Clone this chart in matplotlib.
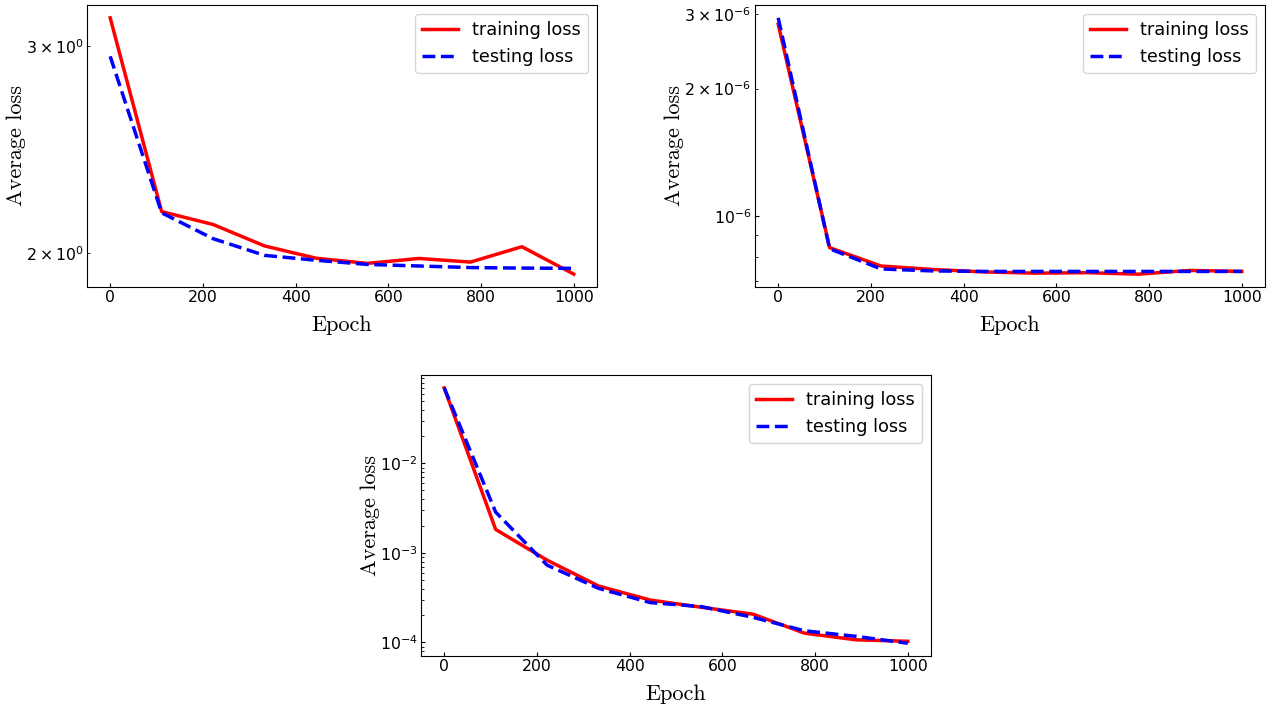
import numpy as np
import matplotlib
matplotlib.use("Agg")
import matplotlib.pyplot as plt

# epochs at which the losses were logged
epochs = [0, 111, 222, 333, 444, 555, 666, 777, 888, 1000]

# run 1
train_a = [3.17, 2.17, 2.116, 2.029, 1.981, 1.961, 1.980, 1.966, 2.026, 1.920]
test_a = [2.94, 2.165, 2.058, 1.992, 1.973, 1.957, 1.951, 1.945, 1.943, 1.942]

# run 2
train_b = [2.84e-6, 8.4e-7, 7.6e-7, 7.46e-7, 7.36e-7, 7.31e-7, 7.33e-7, 7.27e-7, 7.42e-7, 7.38e-7]
test_b = [2.94e-6, 8.35e-7, 7.48e-7, 7.4e-7, 7.38e-7, 7.38e-7, 7.38e-7, 7.38e-7, 7.38e-7, 7.38e-7]

# run 3
train_c = [0.0698, 1.83e-3, 8.3e-4, 4.27e-4, 2.98e-4, 2.47e-4, 2.07e-4, 1.27e-4, 1.07e-4, 1.03e-4]
test_c = [0.0700, 2.86e-3, 7.3e-4, 4.02e-4, 2.79e-4, 2.51e-4, 1.91e-4, 1.35e-4, 1.17e-4, 9.8e-5]

W, H = 1275, 709
fig = plt.figure(figsize=(W / 100, H / 100), dpi=100)


def box(x0, y0, x1, y1):
    # pixel box (top-left origin) -> figure fraction
    return [x0 / W, 1 - y1 / H, (x1 - x0) / W, (y1 - y0) / H]


axes = [
    fig.add_axes(box(87, 5, 597, 287)),
    fig.add_axes(box(755, 5, 1265, 287)),
    fig.add_axes(box(421, 375, 931, 656)),
]
runs = [(train_a, test_a), (train_b, test_b), (train_c, test_c)]

for ax, (tr, te) in zip(axes, runs):
    ax.plot(epochs, tr, color='red', linewidth=2.5, label='training loss')
    ax.plot(epochs, te, color='blue', linestyle='--', linewidth=2.5, label='testing loss')
    ax.set_yscale('log')
    ax.set_xticks([0, 200, 400, 600, 800, 1000])
    ax.tick_params(which='both', direction='in', labelsize=11.3, pad=2.5)
    ax.tick_params(which='major', length=3)
    ax.tick_params(which='minor', length=2)
    ax.set_xlabel('Epoch', family='cmr10', fontsize=16, labelpad=7)
    ax.set_ylabel('Average loss', family='cmr10', fontsize=16, labelpad=0)
    ax.legend(loc='upper right', fontsize=12.8)

fig.savefig('out.png', dpi=100)
